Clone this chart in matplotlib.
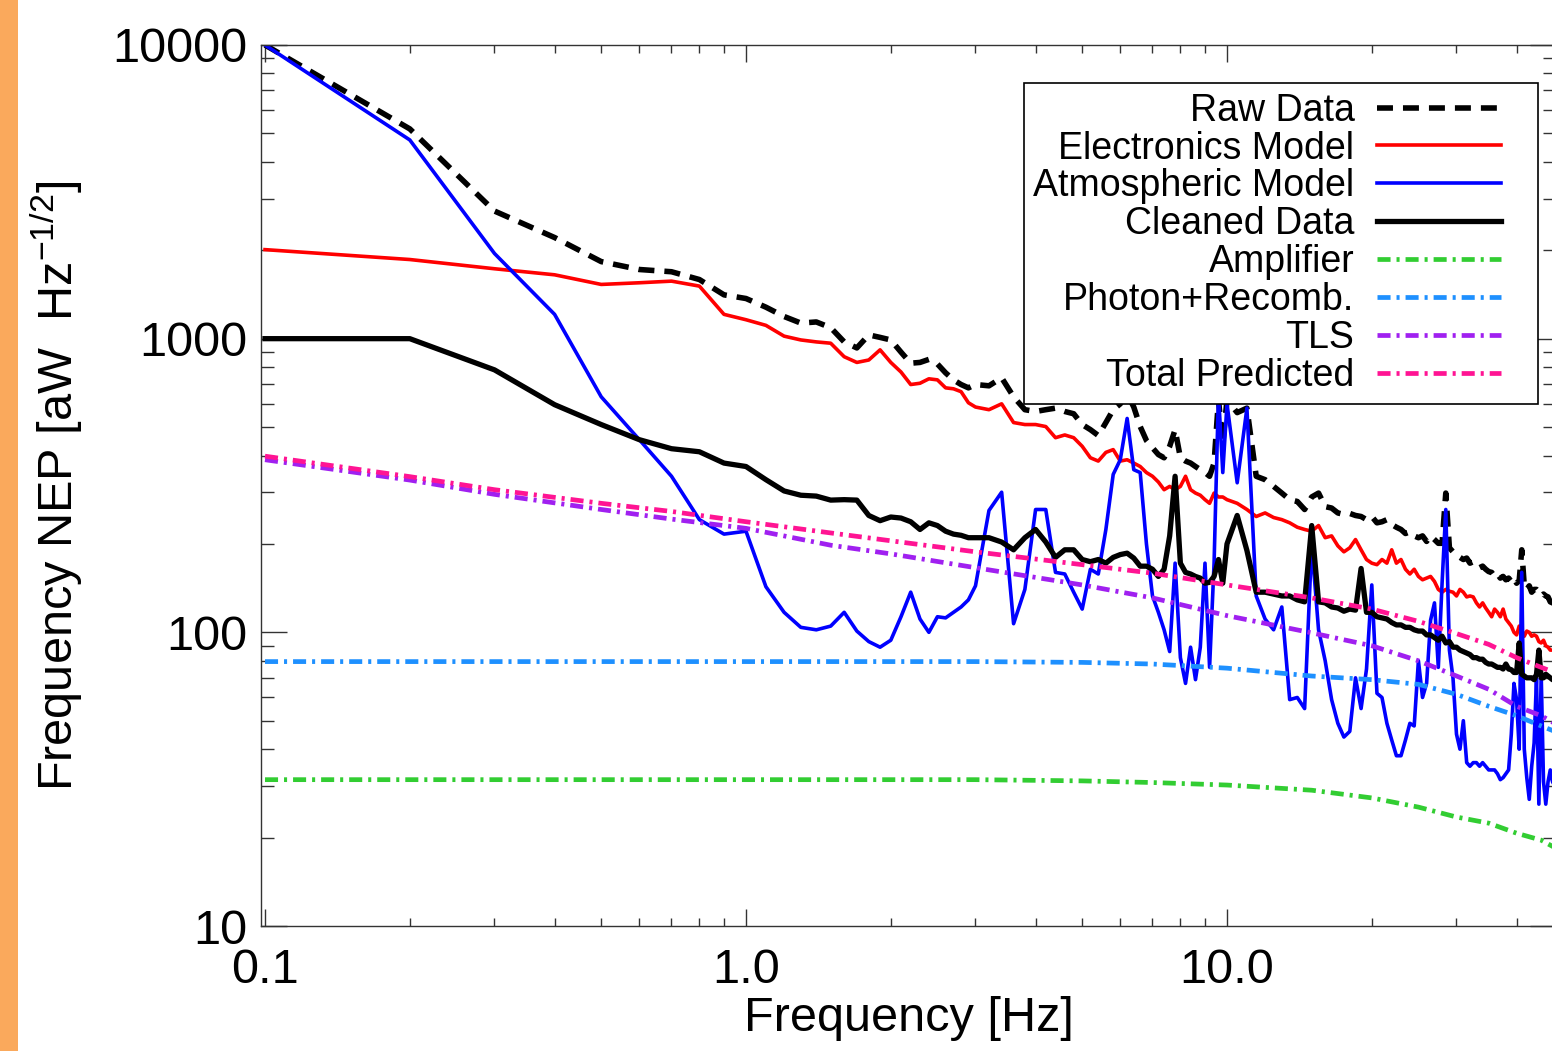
import numpy as np
import matplotlib
matplotlib.use("Agg")
import matplotlib.pyplot as plt
from matplotlib.lines import Line2D
from matplotlib.legend_handler import HandlerLine2D
from matplotlib.patches import Rectangle
from matplotlib import ticker

plt.rcParams['font.family'] = ['Liberation Sans', 'DejaVu Sans']
plt.rcParams['mathtext.fontset'] = 'custom'
plt.rcParams['mathtext.rm'] = 'Liberation Sans'
plt.rcParams['mathtext.it'] = 'Liberation Sans:italic'
plt.rcParams['lines.scale_dashes'] = False

# frequency bins of the measured spectra [Hz]
freq = np.concatenate([np.arange(1, 31) / 10, np.arange(16, 51) / 5, np.arange(21, 97) / 2])

raw_data = [
    10000, 5180, 2720, 2210, 1830, 1720, 1690, 1590, 1410, 1370,
    1280, 1190, 1130, 1140, 1090, 975, 930, 1030, 1010, 990,
    900, 825, 830, 850, 820, 765, 724, 698, 680, 698,
    691, 736, 634, 573, 565, 573, 580, 565, 555, 510,
    490, 468, 518, 573, 600, 650, 585, 502, 450, 425,
    403, 393, 430, 490, 393, 383, 377, 367, 358, 350,
    340, 377, 620, 440, 620,
    560, 580, 340, 331, 314, 298, 283, 279, 262, 289,
    298, 268, 265, 255, 252, 254, 250, 248, 242, 248,
    236, 238, 242, 233, 228, 224, 217, 220, 213, 210,
    213, 204, 213, 207, 201, 201, 298, 194, 188, 186,
    180, 177, 179, 172, 174, 170, 166, 168, 164, 161,
    160, 155, 158, 153, 155, 151, 153, 149, 153, 147,
    150, 191, 144, 140, 144, 137, 140, 140, 137, 133,
    135, 133, 132, 127, 126, 125,
]

electronics = [
    2010, 1860, 1730, 1650, 1530, 1550, 1570, 1510, 1210, 1160,
    1110, 1020, 990, 975, 965, 868, 830, 846, 916, 830,
    770, 698, 705, 730, 724, 680, 675, 660, 605, 585,
    573, 600, 518, 510, 510, 502, 460, 470, 460, 430,
    393, 383, 410, 419, 383, 387, 377, 367, 350, 340,
    325, 306, 314, 306, 314, 340, 306, 298, 293, 283,
    275, 298, 289, 289, 283,
    275, 262, 248, 255, 246, 242, 236, 228, 224, 221,
    231, 210, 213, 197, 188, 194, 207, 191, 177, 172,
    170, 177, 172, 191, 172, 177, 164, 158, 164, 155,
    151, 153, 155, 149, 140, 137, 140, 138, 137, 133,
    140, 137, 132, 133, 132, 126, 122, 126, 121, 117,
    113, 120, 117, 113, 120, 111, 108, 105, 100, 98,
    105, 102, 97, 101, 100, 97, 98, 97, 93, 92,
    94, 90, 89, 87, 87, 87,
]

atmospheric = [
    10000, 4750, 1950, 1210, 634, 453, 340, 242, 216, 221,
    143, 117, 104, 102, 105, 117, 101, 93, 89, 94,
    113, 137, 111, 100, 113, 112, 117, 122, 129, 144,
    260, 300, 107, 140, 262, 262, 160, 158, 137, 120,
    164, 158, 224, 345, 387, 535, 358, 350, 200, 133,
    117, 102, 86, 172, 82, 67, 89, 69, 89, 172,
    76, 172, 650, 350, 600,
    323, 580, 133, 111, 102, 122, 59, 60, 55, 200,
    102, 80, 59, 49, 44, 46, 70, 55, 75, 145,
    62, 60, 49, 43, 38, 38, 43, 49, 48, 80,
    60, 67, 110, 126, 76, 147, 262, 87, 70, 45,
    40, 50, 36, 35, 36, 36, 35, 36, 35, 34,
    34, 34, 33, 31.5, 32, 33, 34, 45, 67, 59,
    40, 160, 40, 32, 27, 35, 42, 70, 26, 72,
    31, 26, 31, 34, 31, 30,
]

cleaned = [
    1000, 1000, 783, 596, 510, 453, 422, 412, 377, 367,
    331, 303, 293, 291, 282, 283, 282, 250, 240, 247,
    245, 238, 224, 236, 231, 221, 216, 214, 210, 210,
    210, 203, 191, 210, 224, 203, 180, 191, 191, 177,
    174, 177, 172, 180, 184, 186, 179, 168, 168, 164,
    155, 164, 213, 340, 172, 160, 158, 155, 153, 147,
    148, 155, 177, 147, 200,
    250, 190, 137, 137, 135, 133, 133, 129, 127, 231,
    127, 126, 122, 121, 118, 120, 119, 165, 117, 117,
    113, 112, 111, 108, 106, 106, 104, 104, 102, 101,
    101, 98, 98, 96, 94, 97, 92, 93, 89, 89,
    87, 86, 85, 84, 82, 82, 81, 81, 79, 78,
    78, 77, 76, 76, 75, 78, 75, 74.6, 73, 73,
    92, 72, 71, 70, 70, 70, 69, 72, 87, 70,
    70, 72, 71, 70, 69, 69,
]

# noise model components, sampled on a coarser grid [Hz]
model_freq = [0.1, 0.2, 0.3, 0.5, 0.7, 1.0, 1.5, 2.0, 3.0, 5.0,
              7.0, 10.0, 15.0, 20.0, 25.0, 30.0, 35.0, 40.0, 45.0, 48.0]
amplifier = [31.5, 31.5, 31.5, 31.5, 31.5, 31.5, 31.5, 31.5, 31.5, 31.2,
             30.8, 30.2, 29.0, 27.3, 25.4, 23.5, 22.4, 20.7, 19.6, 18.5]
photon_recomb = [79.5, 79.5, 79.5, 79.5, 79.5, 79.5, 79.5, 79.5, 79.5, 79.0,
                 78.0, 75.5, 71.0, 69.0, 66.5, 61.5, 56.0, 52.0, 48.0, 46.0]
tls = [387, 330, 295, 262, 243, 226, 198, 185, 166, 145,
       131, 114, 99.6, 90, 80, 71, 64, 56, 52, 49]
total_predicted = [398, 339, 306, 275, 258, 238, 218, 205, 188, 170,
                   159, 145, 131, 120, 109, 99, 91, 82, 76, 73]

W, H = 1552, 1051
fig = plt.figure(figsize=(W / 100, H / 100), dpi=100)
fig.patches.append(Rectangle((0, 0), 18 / W, 1, transform=fig.transFigure,
                             facecolor='#FAA95C', edgecolor='none'))

ax = fig.add_axes([261 / W, (H - 926) / H, (1556 - 261) / W, (926 - 45) / H])
ax.set_xscale('log')
ax.set_yscale('log')

dash = (0, (11.5, 7.2))
dashdot = (0, (9.4, 4.3, 2.2, 4.3))

ax.plot(freq, raw_data, color='black', lw=4.0, linestyle=dash, label='Raw Data')
ax.plot(freq, electronics, color='#FF0000', lw=2.6, label='Electronics Model')
ax.plot(freq, atmospheric, color='#0000FF', lw=2.6, label='Atmospheric Model')
ax.plot(freq, cleaned, color='black', lw=3.8, label='Cleaned Data')
ax.plot(model_freq, amplifier, color='#32CD32', lw=3.4, linestyle=dashdot, label='Amplifier')
ax.plot(model_freq, photon_recomb, color='#1E90FF', lw=3.4, linestyle=dashdot,
        label='Photon+Recomb.')
ax.plot(model_freq, tls, color='#A020F0', lw=3.4, linestyle=dashdot, label='TLS')
ax.plot(model_freq, total_predicted, color='#FF1493', lw=3.4, linestyle=dashdot,
        label='Total Predicted')

ax.set_xlim(10 ** (-1 - 4 / 481), 10 ** (-1 + (1556 - 265) / 481))
ax.set_ylim(10, 10000)

ax.set_xticks([0.1, 1, 10], labels=['0.1', '1.0', '10.0'])
ax.set_yticks([10, 100, 1000, 10000], labels=['10', '100', '1000', '10000'])
for axis in (ax.xaxis, ax.yaxis):
    axis.set_minor_locator(ticker.LogLocator(base=10, subs=np.arange(2, 10)))
    axis.set_minor_formatter(ticker.NullFormatter())

ax.tick_params(which='both', direction='in', top=True, right=True,
               color='#333333', width=1.0)
ax.tick_params(axis='x', which='major', length=12.2, pad=15.8, labelsize=35)
ax.tick_params(axis='x', which='minor', length=6.1)
ax.tick_params(axis='y', which='major', length=18.7, pad=10, labelsize=35)
ax.tick_params(axis='y', which='minor', length=9.4)
for sp in ax.spines.values():
    sp.set_color('#333333')
    sp.set_linewidth(1.0)

ax.set_xlabel('Frequency [Hz]', fontsize=35)
ax.xaxis.set_label_coords(0.5, -0.0795)
ax.set_ylabel('Frequency NEP [aW  Hz$^{-1/2}$]', fontsize=35)
ax.yaxis.set_label_coords(-0.136, 0.5)

leg = ax.legend(loc='upper right', bbox_to_anchor=(0.986, 0.957),
                bbox_transform=ax.transAxes, borderaxespad=0,
                markerfirst=False, fontsize=27, fancybox=False,
                edgecolor='black', framealpha=1, borderpad=0.26,
                labelspacing=0.05, handlelength=4.75, handletextpad=-0.12,
                handler_map={Line2D: HandlerLine2D(marker_pad=0.72, numpoints=2)})
leg.get_frame().set_linewidth(1.2)

fig.savefig('out.png', dpi=100)
